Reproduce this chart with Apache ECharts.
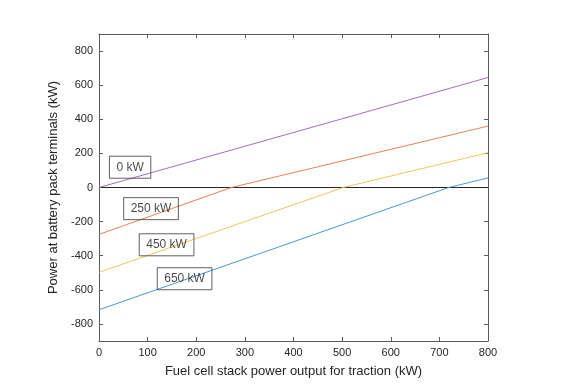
<!DOCTYPE html>
<html>
<head>
<meta charset="utf-8">
<script src="https://cdn.jsdelivr.net/npm/echarts@6/dist/echarts.min.js"></script>
<style>
html,body{margin:0;padding:0;background:#fff;}
#c{width:568px;height:392px;}
</style>
</head>
<body>
<div id="c"></div>
<script>
// Data
const xTicks = [0, 100, 200, 300, 400, 500, 600, 700, 800];
const yTicks = [-800, -600, -400, -200, 0, 200, 400, 600, 800];

const fc_0kW = [0, 800];
const batt_0kW = [0, 645];

const fc_250kW = [0, 272, 800];
const batt_250kW = [-275, 0, 360];

const fc_450kW = [0, 502, 800];
const batt_450kW = [-497, 0, 204];

const fc_650kW = [0, 719, 800];
const batt_650kW = [-717, 0, 56];

const zeroX = [0, 800];
const zeroY = [0, 0];

const labelNames = ['0 kW', '250 kW', '450 kW', '650 kW'];
const labelX = [64, 107, 139, 176];
const labelY = [119, -124, -336, -535];

function zip(a, b) { return a.map((v, i) => [v, b[i]]); }

const chart = echarts.init(document.getElementById('c'), null, {renderer: 'canvas'});
const font = 'Liberation Sans, Arial, Helvetica, sans-serif';
const axisCol = '#5a5a5a';
const textCol = '#262626';

function lineSeries(data, color) {
  return {
    type: 'line', data: data, symbol: 'none', silent: true,
    lineStyle: {color: color, width: 1}, itemStyle: {color: color},
    animation: false, z: 2
  };
}

const option = {
  backgroundColor: '#fff',
  animation: false,
  grid: {left: 99, right: 80, top: 34, bottom: 51, containLabel: false},
  xAxis: [
    {
      type: 'value', position: 'bottom', min: 0, max: 800, interval: 100,
      name: 'Fuel cell stack power output for traction (kW)',
      nameLocation: 'middle', nameGap: 24,
      nameTextStyle: {fontFamily: font, fontSize: 13, color: textCol},
      axisLine: {show: true, onZero: false, lineStyle: {color: axisCol, width: 1}},
      axisTick: {show: true, inside: true, length: 4, lineStyle: {color: axisCol}},
      axisLabel: {fontFamily: font, fontSize: 11, color: textCol, margin: 6},
      splitLine: {show: false}
    },
    {
      type: 'value', position: 'top', min: 0, max: 800, interval: 100,
      axisLine: {show: true, onZero: false, lineStyle: {color: axisCol, width: 1}},
      axisTick: {show: true, inside: true, length: 4, lineStyle: {color: axisCol}},
      axisLabel: {show: false},
      splitLine: {show: false}
    }
  ],
  yAxis: [
    {
      type: 'value', position: 'left', min: -900, max: 900,
      name: 'Power at battery pack terminals (kW)',
      nameLocation: 'middle', nameGap: 32,
      nameTextStyle: {fontFamily: font, fontSize: 13, color: textCol},
      axisLine: {show: true, onZero: false, lineStyle: {color: axisCol, width: 1}},
      axisTick: {show: true, inside: true, length: 4, customValues: yTicks, lineStyle: {color: axisCol}},
      axisLabel: {fontFamily: font, fontSize: 11, color: textCol, margin: 6, customValues: yTicks},
      splitLine: {show: false}
    },
    {
      type: 'value', position: 'right', min: -900, max: 900,
      axisLine: {show: true, onZero: false, lineStyle: {color: axisCol, width: 1}},
      axisTick: {show: true, inside: true, length: 4, customValues: yTicks, lineStyle: {color: axisCol}},
      axisLabel: {show: false, customValues: yTicks},
      splitLine: {show: false}
    }
  ],
  series: [
    lineSeries(zip(zeroX, zeroY), '#262626'),
    lineSeries(zip(fc_650kW, batt_650kW), '#4a98d6'),
    lineSeries(zip(fc_450kW, batt_450kW), '#f2c55a'),
    lineSeries(zip(fc_250kW, batt_250kW), '#e8825a'),
    lineSeries(zip(fc_0kW, batt_0kW), '#a86cbc'),
    {
      type: 'scatter', silent: true, symbolSize: 1, z: 5,
      itemStyle: {color: 'rgba(0,0,0,0)'},
      data: labelNames.map((n, i) => ({name: n, value: [labelX[i], labelY[i]]})),
      label: {
        show: true, position: 'inside', formatter: '{b}',
        fontFamily: font, fontSize: 12, color: '#1a1a1a',
        borderColor: '#3a3a3a', borderWidth: 1,
        padding: [5, 7, 5, 7]
      },
      labelLayout: {hideOverlap: false}
    }
  ]
};
chart.setOption(option);
</script>
</body>
</html>
